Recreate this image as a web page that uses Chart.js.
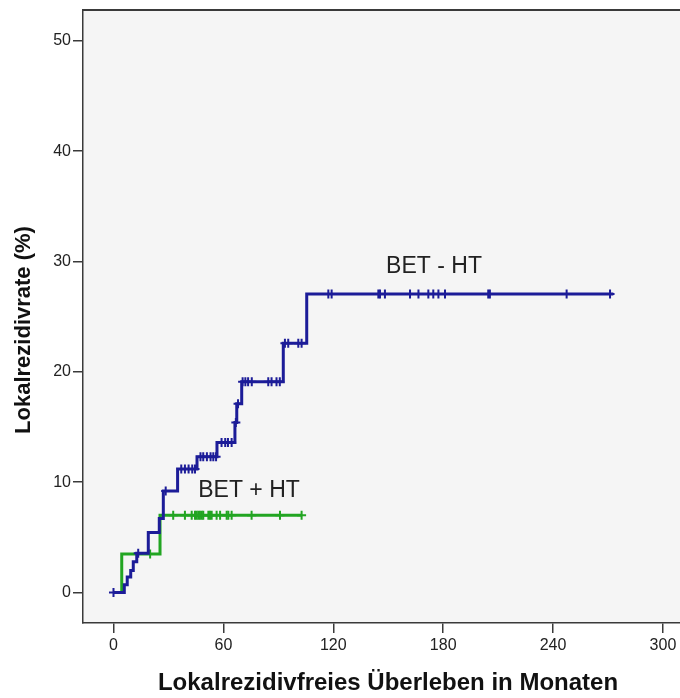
<!DOCTYPE html>
<html><head><meta charset="utf-8">
<script src="https://cdn.jsdelivr.net/npm/chart.js@4/dist/chart.umd.min.js"></script>
<style>html,body{margin:0;padding:0;background:#fff}</style>
</head><body>
<canvas id="c" width="680" height="698"></canvas>
<script>
// ---- data ----
const xTickValues = [0, 60, 120, 180, 240, 300];
const yTickValues = [0, 10, 20, 30, 40, 50];
const seriesNames = ['BET - HT', 'BET + HT'];

// BET - HT (blue): times where the cumulative rate changes, and the new rate
const blueStepTimes = [0, 5.9, 7.5, 9.4, 10.8, 12.7, 19.0, 25.0, 27.2, 35.0, 45.6, 56.5, 66.3, 67.3, 70.0, 92.7, 105.5, 272.9];
const blueStepRates = [0, 0.7, 1.4, 2.0, 2.8, 3.55, 5.45, 6.7, 9.2, 11.2, 12.3, 13.6, 15.4, 17.1, 19.1, 22.6, 27.05, 27.05];
const blueCensorTimes = [0, 13.5, 28.5, 37, 39, 41, 43, 44.5, 47.5, 49, 51, 53, 54.5, 56, 59, 61, 62.5, 64.5, 66.8, 68,
  70.5, 72, 73.5, 75.5, 84.5, 86.3, 89, 90.8, 93.6, 95.4, 100.9, 102.7, 117.3, 119.1, 144.6, 145.5, 148.2,
  161.9, 166.5, 171.9, 174.6, 177.4, 181.0, 204.6, 205.5, 247.4, 271.1];

// BET + HT (green)
const greenStepTimes = [0, 4.5, 25.4, 103];
const greenStepRates = [0, 3.5, 7.0, 7.0];
const greenCensorTimes = [20, 32.6, 39.0, 42.7, 44.5, 45.4, 46.3, 47.2, 48.2, 49.0, 51.8, 52.7, 53.6, 56.3, 58.2,
  61.8, 62.7, 64.5, 75.4, 90.9, 102.7];

// label anchors (data coordinates)
const labelBlue = { x: 175, y: 29.5 };
const labelGreen = { x: 74, y: 9.2 };

// ---- helpers ----
function stepPoints(times, rates) { return times.map((t, i) => ({ x: t, y: rates[i] })); }
function rateAt(t, times, rates) {
  let r = rates[0];
  for (let i = 0; i < times.length; i++) { if (times[i] <= t) r = rates[i]; }
  return r;
}
function censorPoints(ct, times, rates) { return ct.map(t => ({ x: t, y: rateAt(t, times, rates) })); }

const BLUE = '#1c1c98';
const GREEN = '#22a522';
const FRAME = '#3a3a3a';

const bgPlugin = {
  id: 'bg',
  beforeDraw(chart) {
    const { ctx, chartArea: a } = chart;
    ctx.save();
    ctx.fillStyle = '#f5f5f5';
    ctx.fillRect(a.left, a.top, a.right - a.left, a.bottom - a.top);
    ctx.restore();
  },
  afterDraw(chart) {
    const { ctx, chartArea: a, scales } = chart;
    ctx.save();
    ctx.strokeStyle = FRAME;
    ctx.lineWidth = 2;
    ctx.beginPath();
    ctx.moveTo(a.left, a.top);
    ctx.lineTo(a.right, a.top);
    ctx.stroke();
    // in-plot labels
    ctx.fillStyle = '#222';
    ctx.font = '23px "Liberation Sans", Arial, sans-serif';
    ctx.textAlign = 'center';
    ctx.textBaseline = 'middle';
    ctx.fillText(seriesNames[0], scales.x.getPixelForValue(labelBlue.x), scales.y.getPixelForValue(labelBlue.y));
    ctx.fillText(seriesNames[1], scales.x.getPixelForValue(labelGreen.x), scales.y.getPixelForValue(labelGreen.y));
    // axis titles
    ctx.fillStyle = '#111';
    ctx.font = 'bold 24px "Liberation Sans", Arial, sans-serif';
    ctx.fillText('Lokalrezidivfreies Überleben in Monaten', 388, 683);
    ctx.font = 'bold 22px "Liberation Sans", Arial, sans-serif';
    ctx.translate(24, 330);
    ctx.rotate(-Math.PI / 2);
    ctx.fillText('Lokalrezidivrate (%)', 0, 0);
    ctx.restore();
  }
};

new Chart(document.getElementById('c'), {
  type: 'scatter',
  data: {
    datasets: [
      { label: seriesNames[0], type: 'line', data: stepPoints(blueStepTimes, blueStepRates), stepped: 'before',
        borderColor: BLUE, borderWidth: 3, pointRadius: 0, fill: false, order: 1 },
      { label: seriesNames[0] + ' zensiert', data: censorPoints(blueCensorTimes, blueStepTimes, blueStepRates),
        pointStyle: 'cross', pointRadius: 4.5, borderColor: BLUE, borderWidth: 2, backgroundColor: BLUE, order: 0 },
      { label: seriesNames[1], type: 'line', data: stepPoints(greenStepTimes, greenStepRates), stepped: 'before',
        borderColor: GREEN, borderWidth: 3, pointRadius: 0, fill: false, order: 3 },
      { label: seriesNames[1] + ' zensiert', data: censorPoints(greenCensorTimes, greenStepTimes, greenStepRates),
        pointStyle: 'cross', pointRadius: 4.5, borderColor: GREEN, borderWidth: 2, backgroundColor: GREEN, order: 2 }
    ]
  },
  options: {
    responsive: false,
    animation: false,
    devicePixelRatio: 1,
    layout: { autoPadding: false, padding: { top: 10, right: 0, left: 0, bottom: 0 } },
    plugins: { legend: { display: false }, tooltip: { enabled: false } },
    scales: {
      x: {
        type: 'linear', min: -16.65, max: 309.3,
        afterBuildTicks: s => { s.ticks = xTickValues.map(v => ({ value: v })); },
        afterFit: s => { s.height = 75; s.paddingRight = 0; s.paddingLeft = 0; },
        ticks: { font: { size: 16, family: '"Liberation Sans", Arial, sans-serif' }, color: '#222', padding: 3, maxRotation: 0, autoSkip: false },
        grid: { drawOnChartArea: false, drawTicks: true, tickLength: 10, color: FRAME, lineWidth: 1.5 },
        border: { display: true, color: FRAME, width: 1.5 }
      },
      y: {
        type: 'linear', min: -2.76, max: 52.79,
        afterBuildTicks: s => { s.ticks = yTickValues.map(v => ({ value: v })); },
        afterFit: s => { s.width = 83; s.paddingTop = 0; s.paddingBottom = 0; },
        ticks: { font: { size: 16, family: '"Liberation Sans", Arial, sans-serif' }, color: '#222', padding: 2 },
        grid: { drawOnChartArea: false, drawTicks: true, tickLength: 10, color: FRAME, lineWidth: 1.5 },
        border: { display: true, color: FRAME, width: 1.5 }
      }
    }
  },
  plugins: [bgPlugin]
});
</script>
</body></html>
